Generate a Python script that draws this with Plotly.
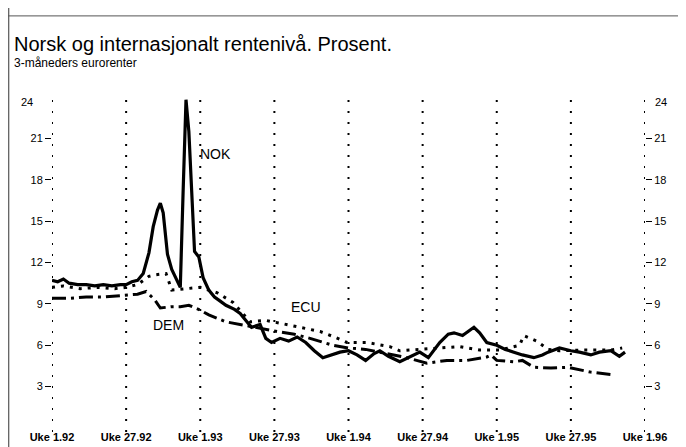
import plotly.graph_objects as go

# x tick positions (weeks since Uke 1.92) and labels
tick_weeks = [0, 26, 52, 78, 104, 130, 156, 182, 208]
tick_labels = ["Uke 1.92", "Uke 27.92", "Uke 1.93", "Uke 27.93", "Uke 1.94",
               "Uke 27.94", "Uke 1.95", "Uke 27.95", "Uke 1.96"]
y_ticks = [3, 6, 9, 12, 15, 18, 21]

nok_weeks = [0, 2, 4, 6, 9, 12, 15, 18, 21, 24, 26, 28, 30, 32, 34, 35.5, 37, 38, 39, 40.5,
             42, 43.5, 45, 46, 47, 48, 49, 50, 51.5, 53, 55, 57, 59, 61, 64, 66, 68, 70, 73,
             75, 77, 80, 83, 86, 89, 92, 95, 98, 101, 104, 107, 110, 113, 115, 118, 122, 125,
             129, 132, 136, 139, 141, 144, 146, 148, 150, 152.5, 156, 159, 162, 165, 169, 172,
             174, 178, 182, 185, 189, 192, 196, 199, 201]
nok_vals = [10.7, 10.6, 10.8, 10.5, 10.4, 10.4, 10.3, 10.4, 10.3, 10.4, 10.4, 10.6, 10.7, 11.2,
            12.7, 14.6, 15.8, 16.3, 15.6, 12.6, 11.5, 10.8, 10.2, 17.2, 23.8, 21.5, 17.0, 12.8,
            12.4, 10.9, 10.0, 9.5, 9.2, 8.9, 8.6, 8.3, 7.8, 7.3, 7.5, 6.5, 6.2, 6.5, 6.3, 6.6,
            6.2, 5.6, 5.1, 5.3, 5.5, 5.6, 5.3, 4.9, 5.4, 5.6, 5.2, 4.8, 5.1, 5.5, 5.1, 6.2, 6.8,
            6.9, 6.7, 7.0, 7.3, 6.9, 6.2, 6.0, 5.7, 5.5, 5.3, 5.1, 5.3, 5.5, 5.8, 5.6, 5.5, 5.3,
            5.5, 5.6, 5.2, 5.5]

ecu_weeks = [0, 4, 10, 16, 22, 26, 30, 34, 36, 40, 42, 47, 52, 58, 63.5, 69.5, 75, 80, 87,
             94, 99, 103.5, 110.5, 118.5, 122, 130, 138.5, 143, 150, 157, 164, 165.5, 170, 174,
             178, 186, 196, 200]
ecu_vals = [10.2, 10.3, 10.1, 10.2, 10.1, 10.2, 10.4, 11.0, 11.1, 11.2, 10.0, 10.1, 10.2, 9.8,
            9.1, 7.7, 7.8, 7.6, 7.3, 7.0, 6.6, 6.2, 6.2, 5.9, 5.6, 5.7, 5.8, 5.9, 5.65, 5.65,
            6.0, 6.7, 6.3, 5.7, 5.6, 5.65, 5.65, 5.8]

dem_weeks = [0, 6, 12, 18, 24, 30, 33, 36, 38, 42, 45, 48, 52, 55, 61, 66, 72, 79, 85, 90.5,
             98.5, 104, 110, 115, 120, 124.5, 131.5, 138.5, 145.5, 152.5, 154, 156, 162, 165,
             169, 175, 181, 189, 197]
dem_vals = [9.4, 9.4, 9.5, 9.5, 9.6, 9.7, 9.9, 9.3, 8.7, 8.8, 8.8, 8.9, 8.55, 8.2, 7.7, 7.5,
            7.3, 7.0, 6.8, 6.5, 6.0, 5.8, 5.7, 5.5, 5.3, 5.1, 4.7, 4.9, 4.9, 5.15, 5.3, 4.9, 4.8,
            4.9, 4.4, 4.35, 4.4, 4.05, 3.85]

FONT = "Liberation Sans, Arial, sans-serif"

fig = go.Figure()
fig.add_trace(go.Scatter(x=dem_weeks, y=dem_vals, mode="lines", name="DEM",
                         line=dict(color="black", width=3, dash="14px,5px,3px,5px")))
fig.add_trace(go.Scatter(x=ecu_weeks, y=ecu_vals, mode="lines", name="ECU",
                         line=dict(color="black", width=3, dash="3px,6px")))
fig.add_trace(go.Scatter(x=nok_weeks, y=nok_vals, mode="lines", name="NOK",
                         line=dict(color="black", width=3.2)))
# invisible trace so the right-hand axis renders
fig.add_trace(go.Scatter(x=[0], y=[0], yaxis="y2", mode="markers",
                         marker=dict(opacity=0), hoverinfo="skip", showlegend=False))

# vertical dotted guide lines at each tick week
for w in tick_weeks:
    fig.add_shape(type="line", xref="x", yref="paper", x0=w, x1=w, y0=-0.012, y1=1.012,
                  line=dict(color="black", width=2, dash="2px,9px"), layer="below")

# the page body adds an 8px offset, so the figure is 678x439 and margins compensate
fig.update_layout(
    width=678, height=439,
    margin=dict(l=44, r=41, t=89, b=19),
    paper_bgcolor="white", plot_bgcolor="white",
    showlegend=False,
    font=dict(family=FONT, color="black", size=11),
    xaxis=dict(range=[0, 208], tickvals=tick_weeks, ticktext=tick_labels, automargin=False,
               showgrid=False, showline=False, zeroline=False, ticks="", ticklabelstandoff=1,
               tickfont=dict(family=FONT, size=11, color="black", weight="bold")),
    yaxis=dict(range=[0, 24], tickvals=y_ticks, showgrid=False, zeroline=False, automargin=False,
               showline=False, ticks="outside", ticklen=6, tickwidth=1.2, tickcolor="black",
               tickfont=dict(size=11)),
    yaxis2=dict(range=[0, 24], overlaying="y", side="right", tickvals=y_ticks, automargin=False,
                showgrid=False, zeroline=False, showline=False, ticks="outside",
                ticklen=6, tickwidth=1.2, tickcolor="black", tickfont=dict(size=11)),
)

# frame lines of the original page
fig.add_shape(type="line", xref="paper", yref="paper", x0=-0.075, x1=1.07, y0=1.245, y1=1.245,
              line=dict(color="#555555", width=1))
fig.add_shape(type="line", xref="paper", yref="paper", x0=-0.073, x1=-0.073, y0=1.3, y1=-0.06,
              line=dict(color="#555555", width=1.2))

fig.add_annotation(text="Norsk og internasjonalt rentenivå. Prosent.", xref="paper", yref="paper",
                   x=-0.068, y=1.122, xanchor="left", yanchor="bottom", showarrow=False,
                   font=dict(size=20, family=FONT))
fig.add_annotation(text="3-måneders eurorenter", xref="paper", yref="paper",
                   x=-0.068, y=1.077, xanchor="left", yanchor="bottom", showarrow=False,
                   font=dict(size=12, family=FONT))
fig.add_annotation(text="24", xref="paper", yref="y", x=-0.029, y=23.65, xanchor="right",
                   showarrow=False, font=dict(size=11))
fig.add_annotation(text="24", xref="paper", yref="y", x=1.014, y=23.65, xanchor="left",
                   showarrow=False, font=dict(size=11))
fig.add_annotation(text="NOK", x=57.5, y=19.9, showarrow=False, font=dict(size=14))
fig.add_annotation(text="ECU", x=89, y=8.8, showarrow=False, font=dict(size=14))
fig.add_annotation(text="DEM", x=40.7, y=7.5, showarrow=False, font=dict(size=14))

fig.write_html("out.html")
